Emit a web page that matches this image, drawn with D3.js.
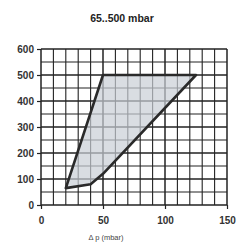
<!DOCTYPE html>
<html>
<head>
<meta charset="utf-8">
<script src="https://cdn.jsdelivr.net/npm/d3@7"></script>
<style>
body { margin: 0; background: #fff; }
text { font-family: "Liberation Sans", Arial, sans-serif; fill: #222; }
</style>
</head>
<body>
<script>
var width = 245, height = 242;

// data
var title = "65..500 mbar";
var xLabel = "\u0394 p (mbar)";
var xTicks = [0, 50, 100, 150];
var yTicks = [0, 100, 200, 300, 400, 500, 600];
var areaDp = [20, 40, 50, 125, 50];
var areaP = [65, 80, 120, 500, 500];

var x = d3.scaleLinear().domain([0, 150]).range([41, 227]);
var y = d3.scaleLinear().domain([0, 600]).range([205, 49]);

var svg = d3.select("body").append("svg")
    .attr("width", width)
    .attr("height", height);

// grid
var grid = svg.append("g");
grid.selectAll(".vx")
    .data(d3.range(0, 151, 10))
    .enter().append("line")
    .attr("x1", function(d) { return x(d); })
    .attr("x2", function(d) { return x(d); })
    .attr("y1", y(0)).attr("y2", y(600))
    .style("stroke", "#222")
    .style("stroke-width", function(d) { return d % 50 == 0 ? 1.5 : 1.1; });

grid.selectAll(".hy")
    .data(d3.range(0, 601, 50))
    .enter().append("line")
    .attr("y1", function(d) { return y(d); })
    .attr("y2", function(d) { return y(d); })
    .attr("x1", x(0)).attr("x2", x(150))
    .style("stroke", "#222")
    .style("stroke-width", function(d) { return d % 100 == 0 ? 1.5 : 1.1; });

// area
var pts = areaDp.map(function(d, i) { return [x(d), y(areaP[i])]; });
svg.append("path")
    .attr("d", "M" + pts.join("L") + "Z")
    .style("fill", "#c9ced6")
    .style("fill-opacity", 0.7)
    .style("stroke", "#2a2a2a")
    .style("stroke-width", 2.6)
    .style("stroke-linejoin", "round");

// axes
var xAxis = svg.append("g")
    .attr("transform", "translate(0," + y(0) + ")")
    .call(d3.axisBottom(x).tickValues(xTicks).tickSize(4).tickPadding(8));
var yAxis = svg.append("g")
    .attr("transform", "translate(" + x(0) + ",0)")
    .call(d3.axisLeft(y).tickValues(yTicks).tickSize(4).tickPadding(3));

[xAxis, yAxis].forEach(function(a) {
    a.select(".domain").remove();
    a.selectAll("line").style("stroke", "#222").style("stroke-width", 1.2);
    a.selectAll("text")
        .style("font-size", "10px")
        .style("font-weight", "bold")
        .style("fill", "#333");
});

svg.append("text")
    .attr("x", 122).attr("y", 22)
    .attr("text-anchor", "middle")
    .style("font-size", "10.5px")
    .style("font-weight", "bold")
    .text(title);

svg.append("text")
    .attr("x", 106).attr("y", 240)
    .attr("text-anchor", "middle")
    .style("font-size", "7.5px")
    .style("fill", "#444")
    .text(xLabel);
</script>
</body>
</html>
